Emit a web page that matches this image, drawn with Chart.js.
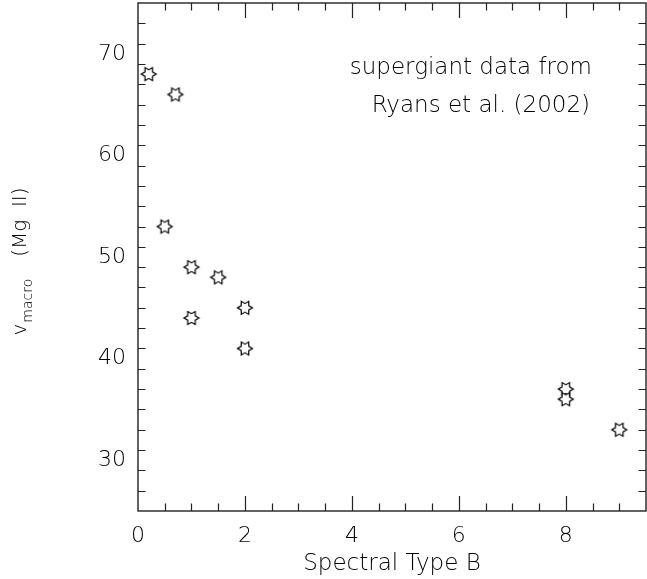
<!DOCTYPE html>
<html><head><meta charset="utf-8">
<script src="https://cdn.jsdelivr.net/npm/chart.js@4.4.0/dist/chart.umd.min.js"></script>
<style>html,body{margin:0;padding:0;background:#fff}#wrap{width:647px;height:579px}</style>
</head><body><div id="wrap"><canvas id="c" width="647" height="579"></canvas></div>
<script>
// ---- data ----
const spectralType = [0.2, 0.7, 0.5, 1, 1, 1.5, 2, 2, 8, 8, 9];
const vMacro       = [68, 66, 53, 49, 44, 48, 45, 41, 37, 36, 33];
const xTicks = [0, 2, 4, 6, 8];
const yTicks = [30, 40, 50, 60, 70];
const xRange = [0, 9.5];
const yRange = [25, 75];
const xMinorStep = 0.5;
const yMinorStep = 2;
const xTitle = 'Spectral Type B';
const yTitleMain = 'v', yTitleSub = 'macro', yTitleRest = '(Mg  II)';
const noteLines = ['supergiant data from', 'Ryans et al. (2002)'];

const FONT = '"DejaVu Sans", "Liberation Sans", sans-serif';
const INK = '#000';

// six-pointed star marker (outline)
function makeStar() {
  const c = document.createElement('canvas');
  c.width = 20; c.height = 20;
  const g = c.getContext('2d');
  const R = 7.5, r = R / Math.sqrt(3), cx = 10, cy = 10;
  g.beginPath();
  for (let k = 0; k < 12; k++) {
    const a = k * Math.PI / 6;
    const rad = (k % 2 === 0) ? R : r;
    const px = cx + rad * Math.cos(a), py = cy - rad * Math.sin(a);
    if (k === 0) g.moveTo(px, py); else g.lineTo(px, py);
  }
  g.closePath();
  g.fillStyle = '#fff'; g.fill();
  g.lineWidth = 1.2; g.strokeStyle = '#000'; g.stroke();
  return c;
}
const starImg = makeStar();

const framePlugin = {
  id: 'frame',
  afterDatasetsDraw(chart) {
    const { ctx, chartArea: a, scales: { x, y } } = chart;
    ctx.save();
    ctx.strokeStyle = '#222';
    ctx.lineWidth = 1.4;
    ctx.strokeRect(a.left, a.top, a.right - a.left, a.bottom - a.top);
    ctx.lineWidth = 1.2;
    ctx.beginPath();
    const eps = 1e-6;
    for (let v = xRange[0]; v <= xRange[1] + eps; v += xMinorStep) {
      if (v <= xRange[0] + eps || v >= xRange[1] - eps) continue;
      const major = xTicks.some(t => Math.abs(t - v) < eps);
      const L = major ? 15 : 7.5;
      const px = Math.round(x.getPixelForValue(v)) + 0.5;
      ctx.moveTo(px, a.bottom); ctx.lineTo(px, a.bottom - L);
      ctx.moveTo(px, a.top); ctx.lineTo(px, a.top + L);
    }
    for (let v = yRange[0]; v <= yRange[1] + eps; v += yMinorStep) {
      if (v <= yRange[0] + eps || v >= yRange[1] - eps) continue;
      const major = yTicks.some(t => Math.abs(t - v) < eps);
      const L = major ? 15 : 7.5;
      const py = Math.round(y.getPixelForValue(v)) + 0.5;
      ctx.moveTo(a.left, py); ctx.lineTo(a.left + L, py);
      ctx.moveTo(a.right, py); ctx.lineTo(a.right - L, py);
    }
    ctx.stroke();

    // annotation
    ctx.fillStyle = INK;
    ctx.font = '200 23px ' + FONT;
    ctx.textAlign = 'right';
    ctx.textBaseline = 'alphabetic';
    ctx.fillText(noteLines[0], a.right - 54, a.top + 71);
    ctx.fillText(noteLines[1], a.right - 56, a.top + 109);

    // x title
    ctx.textAlign = 'center';
    ctx.font = '200 23px ' + FONT;
    ctx.fillText(xTitle, (a.left + a.right) / 2, 570);

    // y title (rotated, with subscript)
    const mainF = '200 20px ' + FONT, subF = '200 14px ' + FONT;
    ctx.font = mainF; const wv = ctx.measureText(yTitleMain).width;
    const wr = ctx.measureText(yTitleRest).width;
    ctx.font = subF; const ws = ctx.measureText(yTitleSub).width;
    const gap = 22;
    const total = wv + ws + gap + wr;
    ctx.translate(26, (a.top + a.bottom) / 2 + 5);
    ctx.rotate(-Math.PI / 2);
    ctx.textAlign = 'left';
    let cx = -total / 2;
    ctx.font = mainF; ctx.fillText(yTitleMain, cx, 0); cx += wv + 1;
    ctx.font = subF; ctx.fillText(yTitleSub, cx, 6); cx += ws + gap;
    ctx.font = mainF; ctx.fillText(yTitleRest, cx, 0);
    ctx.restore();
  }
};

new Chart(document.getElementById('c'), {
  type: 'scatter',
  data: {
    datasets: [{
      data: spectralType.map((v, i) => ({ x: v, y: vMacro[i] })),
      pointStyle: starImg,
      pointRadius: 7,
      pointHoverRadius: 7
    }]
  },
  options: {
    responsive: false,
    animation: false,
    events: [],
    layout: { autoPadding: false, padding: { top: 3, right: 1, left: 0, bottom: 0 } },
    plugins: { legend: { display: false }, tooltip: { enabled: false } },
    scales: {
      x: {
        type: 'linear', min: xRange[0], max: xRange[1],
        afterBuildTicks: s => { s.ticks = xTicks.map(v => ({ value: v })); },
        afterFit: s => { s.height = 68; s.paddingLeft = 0; s.paddingRight = 0; },
        grid: { display: false, drawTicks: false },
        border: { display: false },
        ticks: { color: INK, font: { family: FONT, size: 22, weight: 200 }, padding: 12, maxRotation: 0, autoSkip: false }
      },
      y: {
        type: 'linear', min: yRange[0], max: yRange[1],
        afterBuildTicks: s => { s.ticks = yTicks.map(v => ({ value: v })); },
        afterFit: s => { s.width = 138; s.paddingTop = 0; s.paddingBottom = 0; },
        grid: { display: false, drawTicks: false },
        border: { display: false },
        ticks: { color: INK, font: { family: FONT, size: 22, weight: 200 }, padding: 12, autoSkip: false }
      }
    }
  },
  plugins: [framePlugin]
});
</script>
</body></html>
